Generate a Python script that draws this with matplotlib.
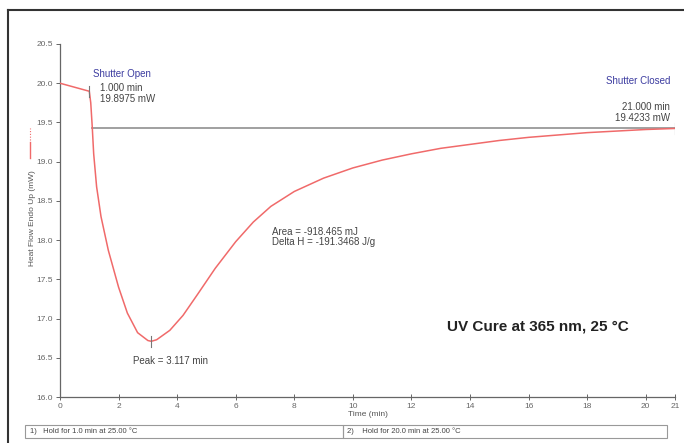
import matplotlib
matplotlib.use("Agg")
import matplotlib.pyplot as plt
from matplotlib.patches import Rectangle
from matplotlib.lines import Line2D

plt.rcParams['font.family'] = ['Liberation Sans', 'DejaVu Sans']

# Data
time_min = [0.0, 1.0, 1.05, 1.1, 1.15, 1.25, 1.4, 1.65, 2.0, 2.3, 2.65, 3.0, 3.117,
            3.3, 3.75, 4.2, 4.7, 5.3, 6.0, 6.6, 7.2, 8.0, 9.0, 10.0, 11.0, 12.0,
            13.0, 14.0, 15.0, 16.0, 17.0, 18.0, 19.0, 20.0, 21.0]
heat_flow = [20.0, 19.8975, 19.75, 19.45, 19.1, 18.68, 18.3, 17.87, 17.4, 17.07, 16.82, 16.72, 16.71,
             16.73, 16.85, 17.04, 17.31, 17.64, 17.98, 18.23, 18.43, 18.62, 18.79, 18.92, 19.02, 19.10,
             19.17, 19.22, 19.27, 19.31, 19.34, 19.37, 19.39, 19.41, 19.4233]
baseline_x = [1.1, 21.0]
baseline_y = [19.4233, 19.4233]
x_ticks = [0, 2, 4, 6, 8, 10, 12, 14, 16, 18, 20, 21]
y_ticks = [16.0, 16.5, 17.0, 17.5, 18.0, 18.5, 19.0, 19.5, 20.0, 20.5]
peak_x, peak_y = 3.117, 16.71
open_x, open_y = 1.0, 19.8975
close_x, close_y = 21.0, 19.4233

W, H = 684, 443
fig = plt.figure(figsize=(W / 100, H / 100), dpi=100)
ax = fig.add_axes([60 / W, 1 - 397 / H, (675 - 60) / W, (397 - 44) / H])

curve_color = '#f06a6a'
blue = '#3c3ca0'

ax.plot(baseline_x, baseline_y, color='#999999', lw=1.3, zorder=2)
ax.plot(time_min, heat_flow, color=curve_color, lw=1.1, zorder=3,
        solid_joinstyle='round', solid_capstyle='round')

# tick marks on curve
ax.plot([open_x, open_x], [open_y - 0.07, open_y + 0.07], color='#777777', lw=0.8, zorder=4)
ax.plot([peak_x, peak_x], [peak_y - 0.07, peak_y + 0.07], color='#777777', lw=0.8, zorder=4)
ax.plot([close_x, close_x], [close_y - 0.07, close_y + 0.07], color='#777777', lw=0.8, zorder=4)

ax.set_xlim(0, 21)
ax.set_ylim(16.0, 20.5)
ax.set_xticks(x_ticks)
ax.set_xticklabels([str(t) for t in x_ticks])
ax.set_yticks(y_ticks)
ax.set_yticklabels([f"{t:.1f}" for t in y_ticks])
for s in ['top', 'right']:
    ax.spines[s].set_visible(False)
for s in ['left', 'bottom']:
    ax.spines[s].set_color('#666666')
    ax.spines[s].set_linewidth(0.9)
ax.tick_params(axis='both', labelsize=6, colors='#666666', length=3, width=0.7, pad=2)
ax.tick_params(axis='x', direction='inout', length=4)
ax.tick_params(axis='y', direction='out', length=3)
ax.set_xlabel('Time (min)', fontsize=6, color='#555555', labelpad=1)
ax.patch.set_alpha(0)

# annotations
ax.text(1.12, 20.05, 'Shutter Open', fontsize=7, color=blue, ha='left', va='bottom')
ax.text(1.37, 19.87, '1.000 min', fontsize=7, color='#444444', ha='left', va='bottom')
ax.text(1.37, 19.73, '19.8975 mW', fontsize=7, color='#444444', ha='left', va='bottom')
ax.text(20.83, 19.96, 'Shutter Closed', fontsize=7, color=blue, ha='right', va='bottom')
ax.text(20.83, 19.63, '21.000 min', fontsize=7, color='#444444', ha='right', va='bottom')
ax.text(20.83, 19.49, '19.4233 mW', fontsize=7, color='#444444', ha='right', va='bottom')
ax.text(7.23, 18.04, 'Area = -918.465 mJ', fontsize=7, color='#444444', ha='left', va='bottom')
ax.text(7.23, 17.91, 'Delta H = -191.3468 J/g', fontsize=7, color='#444444', ha='left', va='bottom')
ax.text(2.5, 16.39, 'Peak = 3.117 min', fontsize=7, color='#444444', ha='left', va='bottom')
ax.text(13.2, 16.81, 'UV Cure at 365 nm, 25 °C', fontsize=11, fontweight='bold',
        color='#222222', ha='left', va='bottom')

# y-label with legend line
fig.text(33 / W, 1 - 218 / H, 'Heat Flow Endo Up (mW)', rotation=90, fontsize=6,
         color='#555555', ha='center', va='center')
fig.add_artist(Line2D([30 / W, 30 / W], [1 - 158 / H, 1 - 142 / H], color=curve_color, lw=1.0))
fig.add_artist(Line2D([30 / W, 30 / W], [1 - 140 / H, 1 - 128 / H], color=curve_color, lw=0.8,
                      linestyle=(0, (1, 1.5))))

# outer frame
fig.add_artist(Line2D([8 / W, 8 / W], [0, 1 - 10 / H], color='#333333', lw=1.5))
fig.add_artist(Line2D([8 / W, 1], [1 - 10 / H, 1 - 10 / H], color='#333333', lw=1.5))

# bottom step boxes
fig.add_artist(Rectangle((25 / W, 1 - 438 / H), (343 - 25) / W, 13 / H,
                         fill=False, edgecolor='#999999', lw=0.8))
fig.add_artist(Rectangle((343 / W, 1 - 438 / H), (667 - 343) / W, 13 / H,
                         fill=False, edgecolor='#999999', lw=0.8))
fig.text(30 / W, 1 - 431.5 / H, '1)   Hold for 1.0 min at 25.00 °C', fontsize=5.5,
         color='#444444', ha='left', va='center')
fig.text(347 / W, 1 - 431.5 / H, '2)    Hold for 20.0 min at 25.00 °C', fontsize=5.5,
         color='#444444', ha='left', va='center')

fig.savefig('out.png', dpi=100)
